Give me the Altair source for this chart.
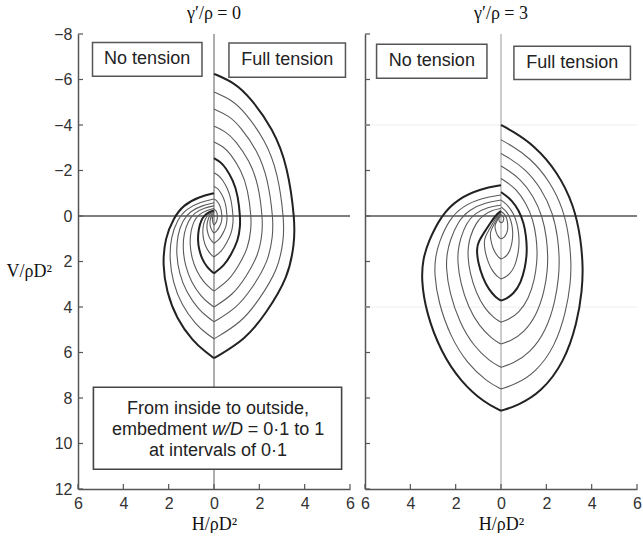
import altair as alt
import pandas as pd

# embedment ratios w/D, outer to inner
W = [1.0, 0.9, 0.8, 0.7, 0.6, 0.5, 0.4, 0.3, 0.2, 0.1]
BOLD_W = [1.0, 0.5]

X_TICKS = [-6, -4, -2, 0, 2, 4, 6]
Y_TICKS = [-8, -6, -4, -2, 0, 2, 4, 6, 8, 10, 12]

# ---- gamma'/rho = 0 : full tension side (H >= 0), top intercept -> cusp
G0_FULL_H = [
    [0, 0.90, 1.58, 2.61, 3.26, 3.58, 3.54, 3.29, 2.29, 1.40, 0],
    [0, 0.78, 1.36, 2.26, 2.82, 3.10, 3.07, 2.85, 1.98, 1.21, 0],
    [0, 0.66, 1.15, 1.91, 2.38, 2.62, 2.59, 2.41, 1.68, 1.02, 0],
    [0, 0.54, 0.95, 1.57, 1.96, 2.15, 2.13, 1.98, 1.38, 0.84, 0],
    [0, 0.41, 0.73, 1.20, 1.50, 1.65, 1.63, 1.52, 1.06, 0.64, 0],
    [0, 0.29, 0.51, 0.85, 1.06, 1.16, 1.15, 1.07, 0.74, 0.45, 0],
    [0, 0.21, 0.37, 0.62, 0.77, 0.85, 0.84, 0.78, 0.54, 0.33, 0],
    [0, 0.15, 0.26, 0.42, 0.53, 0.58, 0.57, 0.53, 0.37, 0.23, 0],
    [0, 0.09, 0.15, 0.26, 0.32, 0.35, 0.35, 0.32, 0.22, 0.14, 0],
    [0, 0.04, 0.07, 0.11, 0.14, 0.15, 0.15, 0.14, 0.10, 0.06, 0],
]
G0_FULL_V = [
    [-6.25, -5.86, -5.23, -3.83, -2.19, 0.30, 1.19, 2.68, 4.29, 5.42, 6.25],
    [-5.45, -5.11, -4.57, -3.34, -1.92, 0.25, 1.02, 2.31, 3.70, 4.68, 5.40],
    [-4.70, -4.41, -3.94, -2.89, -1.66, 0.20, 0.87, 1.98, 3.18, 4.03, 4.65],
    [-3.95, -3.70, -3.31, -2.43, -1.41, 0.15, 0.73, 1.69, 2.73, 3.46, 4.00],
    [-3.25, -3.05, -2.73, -2.01, -1.17, 0.10, 0.58, 1.38, 2.24, 2.85, 3.30],
    [-2.54, -2.38, -2.13, -1.56, -0.90, 0.10, 0.46, 1.07, 1.72, 2.18, 2.52],
    [-1.90, -1.78, -1.60, -1.18, -0.69, 0.05, 0.31, 0.75, 1.22, 1.56, 1.80],
    [-1.30, -1.22, -1.09, -0.81, -0.48, 0.03, 0.21, 0.50, 0.81, 1.04, 1.20],
    [-0.75, -0.70, -0.63, -0.47, -0.27, 0.02, 0.13, 0.31, 0.51, 0.65, 0.75],
    [-0.30, -0.28, -0.25, -0.19, -0.11, 0.00, 0.06, 0.16, 0.27, 0.34, 0.40],
]
# ---- gamma'/rho = 0 : no tension side (H <= 0), start on H = 0 -> cusp
G0_NONE_H = [
    [0, -0.64, -1.36, -1.79, -2.16, -2.27, -2.09, -1.66, -0.93, -0.34, 0],
    [0, -0.58, -1.24, -1.62, -1.90, -1.97, -1.81, -1.44, -0.81, -0.30, 0],
    [0, -0.50, -1.06, -1.38, -1.61, -1.67, -1.54, -1.22, -0.68, -0.25, 0],
    [0, -0.41, -0.88, -1.14, -1.33, -1.38, -1.27, -1.01, -0.57, -0.21, 0],
    [0, -0.32, -0.68, -0.89, -1.03, -1.07, -0.98, -0.78, -0.44, -0.16, 0],
    [0, -0.20, -0.43, -0.57, -0.68, -0.72, -0.66, -0.53, -0.30, -0.11, 0],
    [0, -0.14, -0.30, -0.40, -0.48, -0.50, -0.46, -0.37, -0.21, -0.08, 0],
    [0, -0.09, -0.19, -0.25, -0.30, -0.32, -0.29, -0.23, -0.13, -0.05, 0],
    [0, -0.05, -0.11, -0.14, -0.17, -0.18, -0.17, -0.13, -0.07, -0.03, 0],
    [0, -0.02, -0.04, -0.06, -0.07, -0.07, -0.06, -0.05, -0.03, -0.01, 0],
]
G0_NONE_V = [
    [-1.00, -0.85, -0.48, 0.10, 0.98, 2.15, 3.34, 4.49, 5.51, 6.00, 6.25],
    [-0.75, -0.62, -0.31, 0.18, 0.92, 1.90, 2.92, 3.90, 4.77, 5.19, 5.40],
    [-0.58, -0.47, -0.21, 0.20, 0.82, 1.65, 2.52, 3.36, 4.11, 4.47, 4.65],
    [-0.45, -0.36, -0.14, 0.22, 0.75, 1.45, 2.19, 2.90, 3.54, 3.85, 4.00],
    [-0.33, -0.25, -0.07, 0.22, 0.67, 1.25, 1.84, 2.42, 2.93, 3.18, 3.30],
    [-0.24, -0.18, -0.03, 0.21, 0.57, 1.05, 1.48, 1.89, 2.26, 2.43, 2.52],
    [-0.16, -0.12, -0.01, 0.16, 0.41, 0.75, 1.05, 1.35, 1.61, 1.74, 1.80],
    [-0.10, -0.07, 0.00, 0.11, 0.28, 0.50, 0.70, 0.90, 1.07, 1.16, 1.20],
    [-0.05, -0.03, 0.01, 0.07, 0.17, 0.30, 0.43, 0.56, 0.67, 0.72, 0.75],
    [-0.02, -0.01, 0.01, 0.04, 0.08, 0.14, 0.22, 0.29, 0.35, 0.38, 0.40],
]

# ---- gamma'/rho = 3 : full tension side
G3_FULL_H = [
    [0, 0.47, 1.48, 2.50, 3.22, 3.53, 3.62, 3.58, 3.37, 2.79, 1.77, 0.72, 0],
    [0, 0.40, 1.27, 2.14, 2.76, 3.02, 3.10, 3.07, 2.88, 2.39, 1.52, 0.62, 0],
    [0, 0.34, 1.06, 1.78, 2.30, 2.52, 2.58, 2.55, 2.40, 1.99, 1.26, 0.52, 0],
    [0, 0.27, 0.85, 1.43, 1.84, 2.02, 2.07, 2.05, 1.93, 1.59, 1.01, 0.41, 0],
    [0, 0.21, 0.66, 1.10, 1.42, 1.56, 1.60, 1.58, 1.49, 1.23, 0.78, 0.32, 0],
    [0, 0.15, 0.47, 0.79, 1.01, 1.11, 1.14, 1.13, 1.06, 0.88, 0.56, 0.23, 0],
    [0, 0.10, 0.33, 0.55, 0.71, 0.78, 0.80, 0.79, 0.74, 0.62, 0.39, 0.16, 0],
    [0, 0.07, 0.21, 0.36, 0.46, 0.51, 0.52, 0.51, 0.48, 0.40, 0.25, 0.10, 0],
    [0, 0.04, 0.12, 0.21, 0.27, 0.29, 0.30, 0.30, 0.28, 0.23, 0.15, 0.06, 0],
    [0, 0.02, 0.05, 0.08, 0.11, 0.12, 0.12, 0.12, 0.11, 0.09, 0.06, 0.02, 0],
]
G3_FULL_V = [
    [-4.00, -3.75, -3.10, -1.93, -0.47, 1.04, 2.30, 3.24, 4.67, 6.43, 7.75, 8.34, 8.56],
    [-3.35, -3.13, -2.57, -1.56, -0.30, 1.01, 2.10, 2.93, 4.18, 5.73, 6.89, 7.41, 7.60],
    [-2.75, -2.56, -2.08, -1.21, -0.12, 1.01, 1.95, 2.66, 3.73, 5.05, 6.04, 6.49, 6.65],
    [-2.20, -2.04, -1.63, -0.89, 0.04, 1.00, 1.80, 2.37, 3.25, 4.33, 5.13, 5.50, 5.63],
    [-1.65, -1.52, -1.19, -0.58, 0.17, 0.95, 1.60, 2.06, 2.76, 3.63, 4.27, 4.56, 4.67],
    [-1.05, -0.95, -0.70, -0.25, 0.32, 0.91, 1.40, 1.75, 2.28, 2.93, 3.42, 3.64, 3.72],
    [-0.70, -0.63, -0.44, -0.11, 0.31, 0.74, 1.10, 1.35, 1.73, 2.20, 2.55, 2.71, 2.77],
    [-0.40, -0.35, -0.23, -0.01, 0.27, 0.56, 0.80, 0.96, 1.21, 1.52, 1.75, 1.85, 1.89],
    [-0.20, -0.17, -0.11, 0.01, 0.16, 0.32, 0.45, 0.53, 0.66, 0.81, 0.93, 0.98, 1.00],
    [-0.05, -0.04, -0.03, 0.01, 0.05, 0.09, 0.12, 0.15, 0.19, 0.24, 0.28, 0.29, 0.30],
]
# ---- gamma'/rho = 3 : no tension side
G3_NONE_H = [
    [0, -0.88, -1.90, -2.64, -3.22, -3.44, -3.52, -3.31, -2.64, -1.76, -0.74, 0],
    [0, -0.83, -1.71, -2.30, -2.74, -2.89, -2.95, -2.77, -2.21, -1.48, -0.62, 0],
    [0, -0.68, -1.41, -1.90, -2.26, -2.38, -2.43, -2.28, -1.82, -1.22, -0.51, 0],
    [0, -0.58, -1.15, -1.54, -1.80, -1.89, -1.92, -1.80, -1.44, -0.96, -0.40, 0],
    [0, -0.40, -0.81, -1.13, -1.37, -1.44, -1.47, -1.38, -1.10, -0.74, -0.31, 0],
    [0, -0.22, -0.45, -0.78, -0.99, -1.08, -1.02, -0.81, -0.54, -0.23, 0],
    [0, -0.15, -0.32, -0.54, -0.69, -0.75, -0.71, -0.56, -0.38, -0.16, 0],
    [0, -0.10, -0.20, -0.35, -0.44, -0.48, -0.45, -0.36, -0.24, -0.10, 0],
    [0, -0.05, -0.11, -0.19, -0.25, -0.27, -0.25, -0.20, -0.14, -0.06, 0],
    [0, -0.02, -0.04, -0.07, -0.09, -0.10, -0.09, -0.08, -0.05, -0.02, 0],
]
G3_NONE_V = [
    [-1.35, -1.20, -0.76, -0.03, 1.16, 1.90, 2.76, 4.23, 6.00, 7.30, 8.20, 8.56],
    [-0.92, -0.80, -0.43, 0.17, 1.17, 1.78, 2.50, 3.79, 5.35, 6.49, 7.28, 7.60],
    [-0.70, -0.59, -0.28, 0.24, 1.10, 1.63, 2.25, 3.36, 4.71, 5.70, 6.38, 6.65],
    [-0.48, -0.39, -0.12, 0.31, 1.03, 1.48, 2.00, 2.92, 4.03, 4.84, 5.40, 5.63],
    [-0.33, -0.26, -0.03, 0.34, 0.94, 1.31, 1.75, 2.49, 3.38, 4.04, 4.49, 4.67],
    [-0.22, -0.05, 0.28, 0.78, 1.12, 1.45, 2.02, 2.72, 3.23, 3.58, 3.72],
    [-0.15, -0.02, 0.24, 0.63, 0.89, 1.15, 1.56, 2.06, 2.42, 2.67, 2.77],
    [-0.10, -0.01, 0.17, 0.44, 0.62, 0.80, 1.08, 1.41, 1.65, 1.82, 1.89],
    [-0.06, -0.01, 0.09, 0.25, 0.35, 0.45, 0.59, 0.76, 0.88, 0.97, 1.00],
    [-0.03, -0.01, 0.02, 0.07, 0.10, 0.13, 0.17, 0.22, 0.26, 0.29, 0.30],
]

PANEL_TITLES = ["γ′/ρ = 0", "γ′/ρ = 3"]

# ---- annotation layout (data units)
LABEL_BOXES = {
    0: [
        dict(H=-5.36, H2=-0.53, V=-7.63, V2=-6.14),
        dict(H=0.66, H2=5.80, V=-7.60, V2=-6.10),
    ],
    1: [
        dict(H=-5.49, H2=-0.62, V=-7.55, V2=-6.05),
        dict(H=0.57, H2=5.71, V=-7.46, V2=-6.00),
    ],
}
LABEL_TEXT = {
    0: [dict(H=-2.95, V=-6.88, text="No tension"),
        dict(H=3.23, V=-6.85, text="Full tension")],
    1: [dict(H=-3.05, V=-6.80, text="No tension"),
        dict(H=3.14, V=-6.73, text="Full tension")],
}
NOTE_BOX = dict(H=-5.32, H2=5.63, V=7.53, V2=11.13)
NOTE_TEXT = [
    dict(H=0.18, V=8.50, text="From inside to outside,", align="center", italic=False),
    dict(H=-0.31, V=9.42, text="embedment", align="right", italic=False),
    dict(H=-0.09, V=9.42, text="w/D", align="left", italic=True),
    dict(H=1.49, V=9.42, text="= 0·1 to 1", align="left", italic=False),
    dict(H=0.18, V=10.32, text="at intervals of 0·1", align="center", italic=False),
]

PW, PH = 272, 455
SERIF = "Liberation Serif"
SANS = "Liberation Sans"
AXIS_GREY = "#555555"

XSCALE = alt.Scale(domain=[-6, 6], nice=False, zero=False)
YSCALE = alt.Scale(domain=[-8, 12], reverse=True, nice=False, zero=False)


def curve_table(g):
    sets = [(G0_FULL_H, G0_FULL_V, G0_NONE_H, G0_NONE_V),
            (G3_FULL_H, G3_FULL_V, G3_NONE_H, G3_NONE_V)][g]
    fh, fv, nh, nv = sets
    rows = []
    for i, w in enumerate(W):
        for side, hs, vs in (("full", fh[i], fv[i]), ("none", nh[i], nv[i])):
            for k, (h, v) in enumerate(zip(hs, vs)):
                rows.append(dict(cid=f"{side}_{w}", k=k, H=h, V=v,
                                 bold=w in BOLD_W))
    return pd.DataFrame(rows)


def xenc():
    return alt.X(
        "H:Q", scale=XSCALE,
        axis=alt.Axis(values=X_TICKS, labelExpr="abs(datum.value)", ticks=False,
                      grid=False, domainColor=AXIS_GREY, domainWidth=1.5,
                      labelFontSize=16, labelColor="#333333", labelPadding=6,
                      labelFont=SANS, labelFlush=False, title="H/ρD²",
                      titleFont=SERIF, titleFontSize=18,
                      titleFontWeight="normal", titleColor="#111111",
                      titlePadding=4),
    )


def yenc(show):
    if show:
        ax = alt.Axis(values=Y_TICKS, ticks=False, grid=False,
                      domainColor=AXIS_GREY, domainWidth=1.5,
                      labelFontSize=16, labelColor="#333333", labelPadding=6,
                      labelFont=SANS, labelFlush=False, title="V/ρD²",
                      titleFont=SERIF, titleFontSize=18,
                      titleFontWeight="normal", titleColor="#111111",
                      titleAngle=0, titleAlign="left", titleBaseline="middle",
                      titleX=-72, titleY=237)
        return alt.Y("V:Q", scale=YSCALE, axis=ax)
    ax = alt.Axis(values=Y_TICKS, ticks=False, grid=False, labels=False,
                  domainColor=AXIS_GREY, domainWidth=1.5)
    return alt.Y("V:Q", scale=YSCALE, axis=ax, title=None)


def panel(g):
    show = g == 0
    X = xenc()
    Y = yenc(show)
    df = curve_table(g)
    layers = []

    if g == 1:
        faint = alt.Chart(pd.DataFrame({"V": [-4, 4]})).mark_rule(
            color="#eeeeee", strokeWidth=1).encode(y=Y)
        layers.append(faint)

    vline = alt.Chart(pd.DataFrame({"H": [0]})).mark_rule(
        color="#777777" if g == 0 else "#aaaaaa", strokeWidth=1.2).encode(x=X)
    hline = alt.Chart(pd.DataFrame({"V": [0]})).mark_rule(
        color="#555555", strokeWidth=1.6).encode(y=Y)
    layers += [vline, hline]

    thin = alt.Chart(df[~df["bold"]]).mark_line(
        interpolate="basis", color="#5a5a5a", strokeWidth=1.1).encode(
        x=X, y=Y, detail="cid:N", order="k:Q")
    bold = alt.Chart(df[df["bold"]]).mark_line(
        interpolate="basis", color="#222222", strokeWidth=2.0).encode(
        x=X, y=Y, detail="cid:N", order="k:Q")
    layers += [thin, bold]

    rect = alt.Chart(pd.DataFrame(LABEL_BOXES[g])).mark_rect(
        fill="white", stroke="#555555", strokeWidth=1.5).encode(
        x=X, x2="H2:Q", y=Y, y2="V2:Q")
    txt = alt.Chart(pd.DataFrame(LABEL_TEXT[g])).mark_text(
        font=SANS, fontSize=18, color="#222222", baseline="middle",
        align="center").encode(x=X, y=Y, text="text:N")
    layers += [rect, txt]

    if g == 0:
        nb = alt.Chart(pd.DataFrame([NOTE_BOX])).mark_rect(
            fill="white", stroke="#444444", strokeWidth=1.6).encode(
            x=X, x2="H2:Q", y=Y, y2="V2:Q")
        layers.append(nb)
        for t in NOTE_TEXT:
            tm = alt.Chart(pd.DataFrame([t])).mark_text(
                font=SANS, fontSize=18, color="#222222", baseline="middle",
                align=t["align"], fontStyle="italic" if t["italic"] else "normal"
            ).encode(x=X, y=Y, text="text:N")
            layers.append(tm)

    yt = alt.Chart(pd.DataFrame({"V": Y_TICKS})).mark_rule(
        color=AXIS_GREY, strokeWidth=1.2).encode(
        y=Y, x=alt.value(0), x2=alt.value(5))
    xt = alt.Chart(pd.DataFrame({"H": X_TICKS})).mark_rule(
        color=AXIS_GREY, strokeWidth=1.2).encode(
        x=X, y=alt.value(PH), y2=alt.value(PH - 5))
    layers += [yt, xt]

    # panel heading, centred above the plot area
    head = alt.Chart(pd.DataFrame({"t": [PANEL_TITLES[g]]})).mark_text(
        font=SERIF, fontSize=18, color="#111111", baseline="middle",
        align="center").encode(text="t:N", x=alt.value(PW / 2),
                               y=alt.value(-20))
    layers.append(head)

    return alt.layer(*layers).properties(width=PW, height=PH)


chart = alt.hconcat(panel(0), panel(1), spacing=5).properties(
    padding={"left": 6, "top": 5, "right": 0, "bottom": 0},
    background="white",
).configure_view(stroke=None)

chart.save("out.html", embed_options={"renderer": "svg", "actions": False})
